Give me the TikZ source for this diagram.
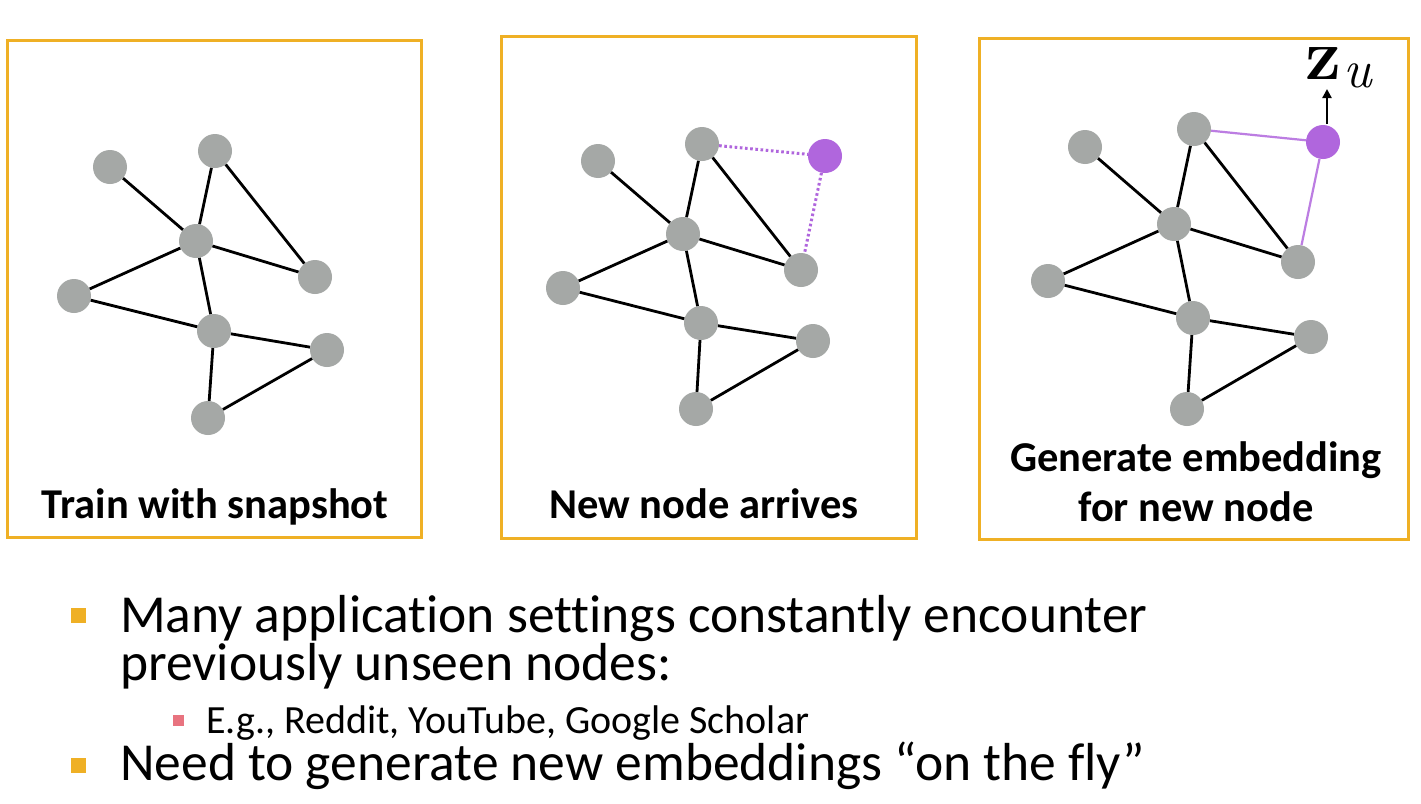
\documentclass[tikz,border=0pt]{standalone}
\usepackage{fontspec}
\setmainfont{Carlito}[Ligatures={NoCommon}]
\newfontfamily\lmfont{Latin Modern Roman}
\usetikzlibrary{arrows.meta}
\definecolor{boxorange}{HTML}{EFB025}
\definecolor{nodegray}{HTML}{A5A8A6}
\definecolor{newpurple}{HTML}{B066DD}
\definecolor{subpink}{HTML}{E8737F}
\tikzset{
  panel/.style={draw=boxorange, line width=3pt},
  gn/.style={circle, fill=nodegray, minimum size=34pt, inner sep=0pt},
  pn/.style={circle, fill=newpurple, minimum size=34pt, inner sep=0pt},
  edge/.style={line width=2.8pt, black},
  newdot/.style={line width=3pt, newpurple, dash pattern=on 2.6pt off 2.6pt},
  newedge/.style={line width=2.2pt, newpurple!85},
  lbl/.style={anchor=base, inner sep=0pt, font=\fontsize{42.5}{50}\selectfont\bfseries},
  bul/.style={anchor=base west, inner sep=0pt, font=\fontsize{53.5}{60}\selectfont},
  subbul/.style={anchor=base west, inner sep=0pt, font=\fontsize{40}{46}\selectfont},
  sqo/.style={fill=boxorange, inner sep=0pt, minimum size=15pt},
  sqp/.style={fill=subpink, inner sep=0pt, minimum size=11pt},
}
\begin{document}
\begin{tikzpicture}[x=1pt,y=-1pt]
\useasboundingbox (0,0) rectangle (1421,803);
\fill[white] (0,0) rectangle (1421,803);

% panel boxes
\draw[panel] (7,40) rectangle (421,537);
\draw[panel] (501,36) rectangle (916,538);
\draw[panel] (979,38) rectangle (1408,539);

% panel 1
\node[gn] (a1) at (110,167) {};
\node[gn] (b1) at (215,151) {};
\node[gn] (c1) at (196,241) {};
\node[gn] (d1) at (315,277) {};
\node[gn] (e1) at (74,296) {};
\node[gn] (f1) at (214,331) {};
\node[gn] (g1) at (327,350) {};
\node[gn] (h1) at (208,418) {};
\draw[edge] (a1)--(c1) (b1)--(c1) (b1)--(d1) (c1)--(d1) (c1)--(e1) (c1)--(f1)
            (e1)--(f1) (f1)--(g1) (f1)--(h1) (h1)--(g1);
\node[lbl] (l1) at (215,518) {Train with snapshot};

% panel 2
\node[gn] (a2) at (598,161) {};
\node[gn] (b2) at (702,144) {};
\node[gn] (c2) at (683,234) {};
\node[gn] (d2) at (801,270) {};
\node[gn] (e2) at (563,288) {};
\node[gn] (f2) at (701,323) {};
\node[gn] (g2) at (813,341) {};
\node[gn] (h2) at (696,409) {};
\node[pn] (n2) at (825,156) {};
\draw[edge] (a2)--(c2) (b2)--(c2) (b2)--(d2) (c2)--(d2) (c2)--(e2) (c2)--(f2)
            (e2)--(f2) (f2)--(g2) (f2)--(h2) (h2)--(g2);
\draw[newdot] (b2)--(n2);
\draw[newdot] (n2)--(d2);
\node[lbl] (l2) at (704,518) {New node arrives};

% panel 3
\node[gn] (a3) at (1085,147) {};
\node[gn] (b3) at (1194,129) {};
\node[gn] (c3) at (1174,224) {};
\node[gn] (d3) at (1298,262) {};
\node[gn] (e3) at (1048,281) {};
\node[gn] (f3) at (1193,318) {};
\node[gn] (g3) at (1311,337) {};
\node[gn] (h3) at (1187,409) {};
\node[pn] (n3) at (1323,142) {};
\draw[edge] (a3)--(c3) (b3)--(c3) (b3)--(d3) (c3)--(d3) (c3)--(e3) (c3)--(f3)
            (e3)--(f3) (f3)--(g3) (f3)--(h3) (h3)--(g3);
\draw[newedge] (b3)--(n3);
\draw[newedge] (n3)--(d3);
\coordinate (zt) at (1327,89);
\draw[line width=2.6pt, -{Triangle[length=9pt,width=9pt]}] (1327,124) -- (zt);
\node[anchor=base west, inner sep=0pt, font=\lmfont\fontsize{72}{72}\selectfont] (zz) at (1305,79) {\textbf{z}};
\node[anchor=base west, inner sep=0pt, font=\lmfont\itshape\fontsize{54}{54}\selectfont] (zsub) at (1343,87) {u};
\node[lbl] (l3a) at (1196,471) {Generate embedding};
\node[lbl] (l3b) at (1196,521) {for new node};

% bullets
\node[sqo] (s1) at (78,615) {};
\node[bul] (t1) at (120,632) {Many application settings constantly encounter};
\node[bul] (t2) at (120,680) {previously unseen nodes:};
\node[sqp] (s2) at (178,720) {};
\node[subbul] (t3) at (206,733) {E.g., Reddit, YouTube, Google Scholar};
\node[sqo] (s3) at (78,765) {};
\node[bul] (t4) at (120,780) {Need to generate new embeddings “on the fly”};
\end{tikzpicture}
\end{document}
